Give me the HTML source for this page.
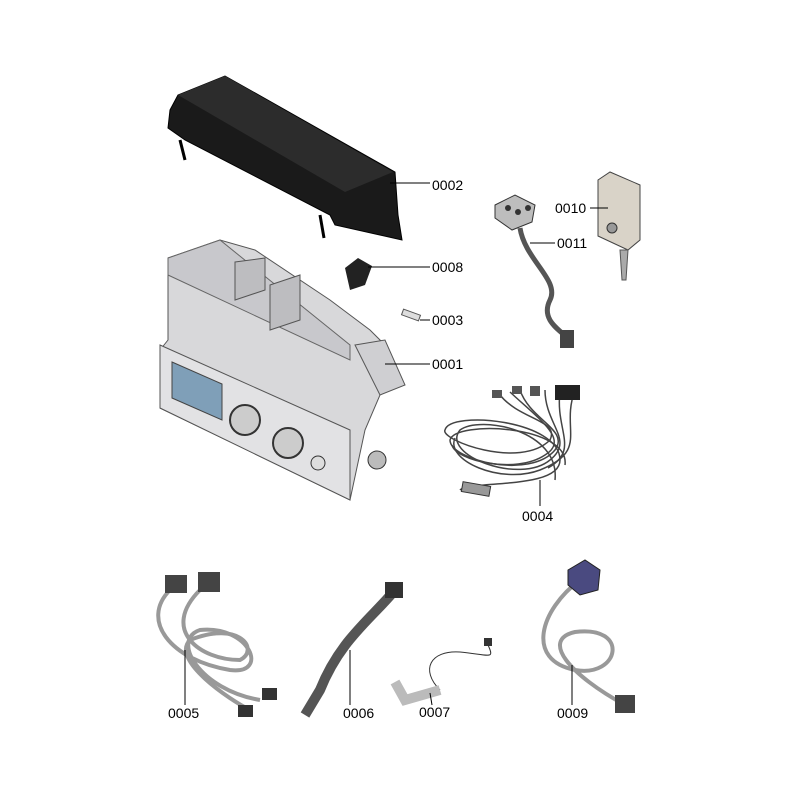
<!DOCTYPE html>
<html><head><meta charset="utf-8"><style>
html,body{margin:0;padding:0;background:#fff}
svg{display:block}
text{font-family:"Liberation Sans",sans-serif;font-size:14px;fill:#000}
</style></head><body>
<svg width="800" height="800" viewBox="0 0 800 800" xmlns="http://www.w3.org/2000/svg">
<!-- 0002 black cover -->
<polygon points="170,110 178,95 225,76 395,172 398,215 402,240 335,225 330,215 185,140 168,128" fill="#1a1a1a" stroke="#000"/>
<polygon points="178,95 225,76 393,172 345,192" fill="#2c2c2c"/>
<line x1="180" y1="140" x2="185" y2="160" stroke="#000" stroke-width="3"/>
<line x1="320" y1="215" x2="324" y2="238" stroke="#000" stroke-width="3"/>
<line x1="390" y1="183" x2="430" y2="183" stroke="#000"/>
<text x="432" y="190">0002</text>
<!-- 0001 control panel -->
<polygon points="168,258 220,240 255,250 330,300 370,330 385,345 385,370 380,395 365,430 350,500 160,408 160,350 168,340" fill="#d8d8da" stroke="#555"/>
<polygon points="168,258 220,240 350,345 350,360 168,275" fill="#c8c8cc" stroke="#666"/>
<polygon points="160,345 350,430 350,500 160,408" fill="#e2e2e4" stroke="#555"/>
<polygon points="172,362 222,384 222,420 172,398" fill="#7f9fb8" stroke="#444"/>
<circle cx="245" cy="420" r="15" fill="#ccc" stroke="#333" stroke-width="2"/>
<circle cx="288" cy="443" r="15" fill="#ccc" stroke="#333" stroke-width="2"/>
<circle cx="318" cy="463" r="7" fill="#ddd" stroke="#333"/>
<circle cx="377" cy="460" r="9" fill="#bbb" stroke="#333"/>
<polygon points="235,262 265,258 265,290 235,300" fill="#bdbdc0" stroke="#555"/>
<polygon points="270,285 300,275 300,320 270,330" fill="#bdbdc0" stroke="#555"/>
<polygon points="355,345 385,340 405,385 380,395" fill="#cfcfd2" stroke="#555"/>
<line x1="385" y1="364" x2="430" y2="364" stroke="#000"/>
<text x="432" y="369">0001</text>
<!-- 0008 -->
<path d="M345,268 L358,258 L372,266 L365,285 L350,290 Z" fill="#222"/>
<line x1="368" y1="267" x2="430" y2="267" stroke="#000"/>
<text x="432" y="272">0008</text>
<!-- 0003 fuse -->
<rect x="402" y="312" width="18" height="6" fill="#ddd" stroke="#555" transform="rotate(20 411 315)"/>
<line x1="420" y1="320" x2="430" y2="320" stroke="#000"/>
<text x="432" y="325">0003</text>
<!-- 0011 -->
<polygon points="495,205 515,195 535,205 532,222 512,230 495,218" fill="#bdbdbd" stroke="#333"/>
<circle cx="508" cy="208" r="3" fill="#333"/><circle cx="518" cy="212" r="3" fill="#333"/><circle cx="528" cy="208" r="3" fill="#333"/>
<path d="M520,228 C525,260 560,280 550,300 C540,320 560,330 570,340" fill="none" stroke="#555" stroke-width="5"/>
<rect x="560" y="330" width="14" height="18" fill="#444"/>
<line x1="530" y1="243" x2="555" y2="243" stroke="#000"/>
<text x="557" y="248">0011</text>
<!-- 0010 -->
<polygon points="598,180 610,172 640,185 640,240 628,250 598,236" fill="#d9d3c8" stroke="#444"/>
<circle cx="612" cy="228" r="5" fill="#999" stroke="#333"/>
<polygon points="620,250 628,250 626,280 622,280" fill="#aaa" stroke="#555"/>
<line x1="590" y1="208" x2="608" y2="208" stroke="#000"/>
<text x="555" y="213">0010</text>
<!-- 0004 -->
<g fill="none" stroke="#444" stroke-width="1.5">
<path d="M500,395 C520,420 560,420 550,440 C520,470 440,440 445,430 C450,410 560,420 560,460 C560,490 470,480 460,490"/>
<path d="M520,390 C530,420 570,430 555,450 C530,480 450,460 450,440 C455,420 570,425 565,465"/>
<path d="M545,390 C545,425 575,440 550,460 C520,485 440,455 460,430 C480,415 560,430 555,480"/>
<path d="M575,390 C560,430 590,450 540,470 C500,485 445,460 455,438"/>
<path d="M510,392 C540,420 570,440 545,455 C515,475 455,460 452,445"/>
<path d="M560,392 C555,430 580,450 548,468"/>
</g>
<rect x="462" y="484" width="28" height="10" fill="#999" stroke="#333" transform="rotate(10 476 489)"/>
<rect x="492" y="390" width="10" height="8" fill="#555"/><rect x="512" y="386" width="10" height="8" fill="#555"/><rect x="530" y="386" width="10" height="10" fill="#555"/>
<rect x="555" y="385" width="25" height="15" fill="#222"/>
<line x1="540" y1="480" x2="540" y2="506" stroke="#000"/>
<text x="522" y="521">0004</text>
<!-- 0005 -->
<g fill="none" stroke="#999" stroke-width="4">
<path d="M170,590 C140,620 170,660 230,670 C270,675 250,625 200,630 C170,640 200,690 260,700"/>
<path d="M200,590 C160,630 200,660 240,660 C260,650 240,620 190,640 C170,660 230,700 250,710"/>
</g>
<rect x="165" y="575" width="22" height="18" fill="#444"/>
<rect x="198" y="572" width="22" height="20" fill="#444"/>
<rect x="238" y="705" width="15" height="12" fill="#333"/>
<rect x="262" y="688" width="15" height="12" fill="#333"/>
<line x1="185" y1="650" x2="185" y2="705" stroke="#000"/>
<text x="168" y="718">0005</text>
<!-- 0006 -->
<path d="M395,590 C370,620 340,640 320,690 L305,715" fill="none" stroke="#555" stroke-width="10"/>
<rect x="385" y="582" width="18" height="16" fill="#333"/>
<line x1="350" y1="650" x2="350" y2="705" stroke="#000"/>
<text x="343" y="718">0006</text>
<!-- 0007 -->
<path d="M440,690 C420,670 430,650 460,652 C490,655 495,660 488,645" fill="none" stroke="#333"/>
<path d="M395,682 L405,700 L440,690" fill="none" stroke="#bbb" stroke-width="10"/>
<rect x="484" y="638" width="8" height="8" fill="#333"/>
<line x1="430" y1="693" x2="432" y2="705" stroke="#000"/>
<text x="419" y="717">0007</text>
<!-- 0009 -->
<path d="M580,580 C540,610 525,660 575,670 C620,678 630,625 575,632 C540,640 570,675 625,705" fill="none" stroke="#999" stroke-width="4"/>
<polygon points="568,570 585,560 600,570 598,590 580,595 568,585" fill="#4a4a80" stroke="#222"/>
<rect x="615" y="695" width="20" height="18" fill="#444"/>
<line x1="572" y1="665" x2="572" y2="705" stroke="#000"/>
<text x="557" y="718">0009</text>
</svg>
</body></html>
